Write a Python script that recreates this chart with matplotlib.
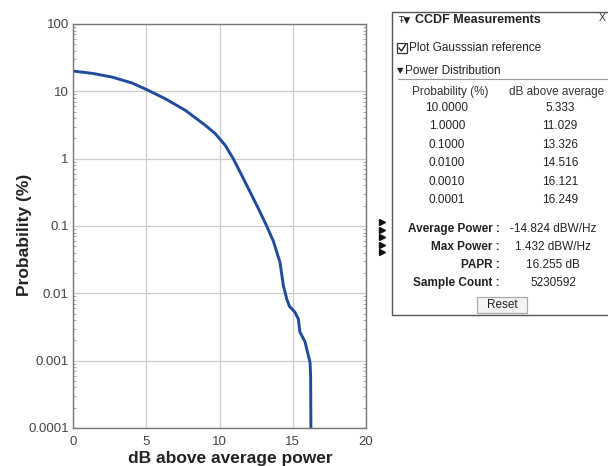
import matplotlib
matplotlib.use("Agg")
import matplotlib.pyplot as plt
from matplotlib.patches import Rectangle
from matplotlib.lines import Line2D

plt.rcParams['font.family'] = ['Liberation Sans', 'DejaVu Sans']

# ---- data ----
db_above_avg = [0, 1.30, 2.66, 4.03, 5.03, 6.30, 7.67, 9.03, 9.69, 10.38, 10.94,
                11.51, 12.08, 12.65, 13.22, 13.67, 14.13, 14.36, 14.59, 14.77,
                15.15, 15.38, 15.49, 15.84, 16.06, 16.18, 16.22, 16.24]
probability = [20.0, 18.5, 16.3, 13.3, 10.6, 7.76, 5.22, 3.13, 2.38, 1.59, 1.0,
               0.57, 0.323, 0.182, 0.1, 0.06, 0.0288, 0.013, 0.00826, 0.00645,
               0.00525, 0.00417, 0.00266, 0.0019, 0.0012, 0.00095, 0.0006, 0.0001]

x_ticks = [0, 5, 10, 15, 20]
y_ticks = [100, 10, 1, 0.1, 0.01, 0.001, 0.0001]
y_tick_labels = ['100', '10', '1', '0.1', '0.01', '0.001', '0.0001']

table_prob = ['10.0000', '1.0000', '0.1000', '0.0100', '0.0010', '0.0001']
table_db = ['5.333', '11.029', '13.326', '14.516', '16.121', '16.249']
stat_labels = ['Average Power :', 'Max Power :', 'PAPR :', 'Sample Count :']
stat_values = ['-14.824 dBW/Hz', '1.432 dBW/Hz', '16.255 dB', '5230592']

W, H = 608, 466
fig = plt.figure(figsize=(W / 100, H / 100), dpi=100)
fig.patch.set_facecolor('white')

def fx(px):
    return px / W

def fy(py):
    return 1 - py / H

ax_l, ax_r, ax_t, ax_b = 73, 366, 24, 428
ax = fig.add_axes([fx(ax_l), fy(ax_b), fx(ax_r) - fx(ax_l), fy(ax_t) - fy(ax_b)])
ax.plot(db_above_avg, probability, color='#1f4b99', lw=2.1,
        solid_joinstyle='round', solid_capstyle='butt')
ax.set_yscale('log')
ax.set_xlim(0, 20)
ax.set_ylim(1e-4, 100)
ax.set_xticks(x_ticks)
ax.set_yticks(y_ticks)
ax.set_yticklabels(y_tick_labels)
ax.tick_params(axis='both', which='major', length=0, labelsize=9.5, labelcolor='#444444')
ax.tick_params(axis='x', which='major', pad=6)
ax.tick_params(axis='y', which='major', pad=3)
ax.tick_params(axis='y', which='minor', direction='in', length=2, color='#999999', left=True, right=True)
ax.grid(True, which='major', color='#cccccc', lw=0.9)
for s in ax.spines.values():
    s.set_color('#777777')
    s.set_linewidth(1.0)
ax.set_xlabel('dB above average power', fontsize=12.5, fontweight='bold', color='#222222')
ax.xaxis.set_label_coords((230 - ax_l) / (ax_r - ax_l), -(451 - ax_b) / (ax_b - ax_t))
ax.set_ylabel('Probability (%)', fontsize=12.5, fontweight='bold', color='#222222', va='center')
ax.yaxis.set_label_coords(-(ax_l - 25) / (ax_r - ax_l), (ax_b - 235) / (ax_b - ax_t))

# ---- side measurement panel ----
panel = Rectangle((fx(392), fy(315)), fx(620) - fx(392), fy(12) - fy(315),
                  transform=fig.transFigure, facecolor='white', edgecolor='#555555', lw=1.0)
fig.add_artist(panel)
fig.text(fx(398), fy(20), '\u0166\u25bc', fontsize=6.5, va='center', ha='left', color='#222222',
         family=['DejaVu Sans'])
fig.text(fx(415), fy(20), 'CCDF Measurements', fontsize=9, fontweight='bold', va='center', ha='left', color='#222222')
fig.text(fx(599), fy(18), 'X', fontsize=7.5, va='center', ha='left', color='#333333')

cb = Rectangle((fx(397), fy(53)), fx(407) - fx(397), fy(43) - fy(53),
               transform=fig.transFigure, facecolor='white', edgecolor='#333333', lw=0.9)
fig.add_artist(cb)
fig.add_artist(Line2D([fx(399), fx(401.5), fx(405.5)], [fy(48), fy(51), fy(44.5)],
                      transform=fig.transFigure, color='#222222', lw=1.0))
fig.text(fx(409), fy(48), 'Plot Gausssian reference', fontsize=8.5, va='center', ha='left', color='#222222')

fig.text(fx(397), fy(71), '\u25bc', fontsize=6, va='center', ha='left', color='#222222', family=['DejaVu Sans'])
fig.text(fx(405), fy(71), 'Power Distribution', fontsize=8.5, va='center', ha='left', color='#222222')
fig.add_artist(Line2D([fx(398), fx(610)], [fy(79), fy(79)], transform=fig.transFigure,
                      color='#999999', lw=0.8))

fig.text(fx(450), fy(92), 'Probability (%)', fontsize=8.5, va='center', ha='center', color='#333333')
fig.text(fx(557), fy(92), 'dB above average', fontsize=8.5, va='center', ha='center', color='#333333')
row_y0, row_dy = 108, 18.4
for i, (p, d) in enumerate(zip(table_prob, table_db)):
    yy = row_y0 + i * row_dy
    fig.text(fx(447), fy(yy), p, fontsize=8.5, va='center', ha='center', color='#222222')
    fig.text(fx(560), fy(yy), d, fontsize=8.5, va='center', ha='center', color='#222222')

stat_y0, stat_dy = 229, 18
for i, (lab, val) in enumerate(zip(stat_labels, stat_values)):
    yy = stat_y0 + i * stat_dy
    fig.text(fx(500), fy(yy), lab, fontsize=8.5, fontweight='bold', va='center', ha='right', color='#222222')
    fig.text(fx(553), fy(yy), val, fontsize=8.5, va='center', ha='center', color='#222222')

btn = Rectangle((fx(477), fy(313)), fx(527) - fx(477), fy(297) - fy(313),
                transform=fig.transFigure, facecolor='#f4f4f4', edgecolor='#aaaaaa', lw=0.9)
fig.add_artist(btn)
fig.text(fx(502), fy(305), 'Reset', fontsize=8.5, va='center', ha='center', color='#222222')

# small arrow markers between the chart and the panel
for k in range(5):
    fig.add_artist(Line2D([fx(382)], [fy(222 + k * 7.5)], transform=fig.transFigure,
                          marker='>', markersize=4.5, color='#111111', lw=0))

fig.savefig('out.png', dpi=100, facecolor='white')
